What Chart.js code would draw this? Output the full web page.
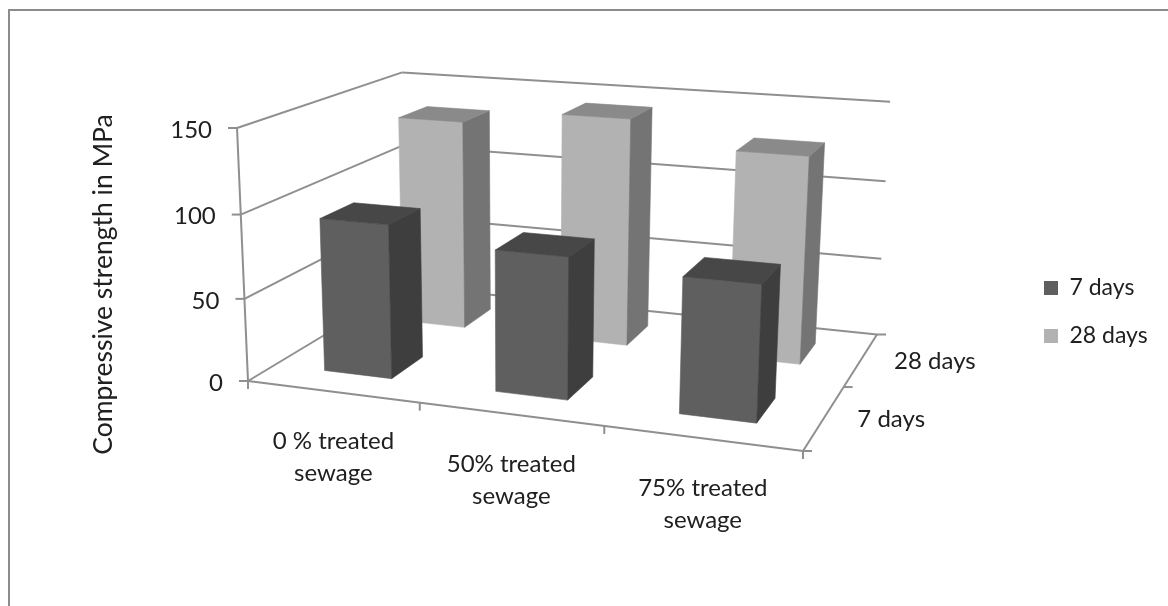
<!DOCTYPE html>
<html>
<head>
<meta charset="utf-8">
<script src="https://cdn.jsdelivr.net/npm/chart.js@4"></script>
<style>
html,body{margin:0;padding:0;background:#fff;overflow:hidden}
#wrap{position:absolute;left:0;top:0;width:1168px;height:606px;overflow:hidden}
#frame{position:absolute;left:8px;top:9px;width:1300px;height:800px;border:2px solid #8c8c8c;box-sizing:border-box}
#holder{position:absolute;left:0;top:0;width:1168px;height:606px}
</style>
</head>
<body>
<div id="wrap"><div id="frame"></div><div id="holder"><canvas id="c"></canvas></div></div>
<script>
// ---- data ----
const categories = [['0 % treated','sewage'],['50% treated','sewage'],['75% treated','sewage']];
const seriesNames = ['7 days','28 days'];
const values7 = [93,84,79];
const values28 = [134,143,128];
const yTicks = [0,50,100,150];
const axisTitle = 'Compressive strength in MPa';

// ---- look ----
const FONT = 'Lato';
const TEXT = '#202020';
const LINE = '#8f8f8f';
const faces = [
  {front:'#5f5f5f',side:'#3e3e3e',top:'#474747'},
  {front:'#b2b2b2',side:'#747474',top:'#8a8a8a'}
];
// Camera: the page position of the plot's floor, one roof corner and the vertical vanishing point
const floorQuad = {fl:[248,381],fr:[803,451],br:[877,334.5],bl:[406,286]};
const roofFrontLeft = [237,128];
const vanish = [521,6675];
const barDepth = 0.4;   // share of a series' depth slot

const cam = (()=>{
  const [x0,y0]=floorQuad.fl,[x1,y1]=floorQuad.fr,[x2,y2]=floorQuad.br,[x3,y3]=floorQuad.bl;
  const sx=x0-x1+x2-x3, sy=y0-y1+y2-y3;
  const dx1=x1-x2, dx2=x3-x2, dy1=y1-y2, dy2=y3-y2;
  const den=dx1*dy2-dx2*dy1;
  const g=(sx*dy2-dx2*sy)/den, h=(dx1*sy-sx*dy1)/den;
  const c=(y0-roofFrontLeft[1])/(roofFrontLeft[1]-vanish[1]);
  return {g,h,c,
    A:[x0,y0],B:[x1-x0+g*x1,y1-y0+g*y1],C:[x3-x0+h*x3,y3-y0+h*y3],E:[c*vanish[0],c*vanish[1]]};
})();
function project(u,v,w){
  const D=1+cam.g*u+cam.h*v+cam.c*w;
  return [0,1].map(i=>(cam.A[i]+cam.B[i]*u+cam.C[i]*v+cam.E[i]*w)/D);
}
function poly(ctx,pts,fill){
  ctx.beginPath();
  pts.forEach((p,i)=>i?ctx.lineTo(p[0],p[1]):ctx.moveTo(p[0],p[1]));
  ctx.closePath();
  ctx.fillStyle=fill;ctx.strokeStyle=fill;ctx.lineWidth=0.6;
  ctx.fill();ctx.stroke();
}
function seg(ctx,a,b){
  ctx.beginPath();ctx.moveTo(a[0],a[1]);ctx.lineTo(b[0],b[1]);ctx.stroke();
}

const plot3d = {
  id:'plot3d',
  afterLayout(chart){
    const l=chart.legend, pad=l.options.labels.padding;
    const dx=1044-(l.left+pad), dy=312-(l.top+l.bottom)/2;
    l.left+=dx;l.right+=dx;l.top+=dy;l.bottom+=dy;
  },
  beforeDatasetDraw(){ return false; },
  beforeDatasetsDraw(chart){
    const ctx=chart.ctx, area=chart.chartArea, ys=chart.scales.y, xs=chart.scales.x;
    const wOf=val=>(ys.bottom-ys.getPixelForValue(val))/(ys.bottom-ys.top);
    const uOf=px=>(px-area.left)/(area.right-area.left);
    ctx.save();
    ctx.lineCap='butt';
    // walls + value gridlines
    ctx.strokeStyle=LINE;ctx.lineWidth=2;
    ys.ticks.forEach(t=>{
      const w=wOf(t.value);
      const f=project(0,0,w),b=project(0,1,w),r=project(1,1,w);
      seg(ctx,f,b);seg(ctx,b,r);
      seg(ctx,[f[0]-9,f[1]],f);
    });
    seg(ctx,project(0,0,0),project(0,0,1));
    // floor edges & ticks
    seg(ctx,project(0,0,0),project(1,0,0));
    seg(ctx,project(1,0,0),project(1,1,0));
    const n=categories.length;
    for(let i=0;i<=n;i++){
      const p=project(i/n,0,0);seg(ctx,p,[p[0],p[1]+8]);
    }
    for(let i=0;i<=seriesNames.length;i++){
      const p=project(1,i/seriesNames.length,0);
      seg(ctx,p,[p[0]+9,p[1]]);
    }
    // bars, back row first
    for(let d=chart.data.datasets.length-1;d>=0;d--){
      const meta=chart.getDatasetMeta(d);
      const slot=1/chart.data.datasets.length;
      const v0=(d+0.5-barDepth/2)*slot, v1=(d+0.5+barDepth/2)*slot;
      meta.data.forEach((el,i)=>{
        const val=chart.data.datasets[d].data[i];
        const u0=uOf(el.x-el.width/2),u1=uOf(el.x+el.width/2);
        const w=wOf(val);
        const a=project(u0,v0,0),b=project(u1,v0,0),c=project(u1,v0,w),e=project(u0,v0,w);
        const f=project(u1,v1,0),g=project(u1,v1,w),h=project(u0,v1,w);
        poly(ctx,[a,b,c,e],faces[d].front);
        poly(ctx,[b,f,g,c],faces[d].side);
        poly(ctx,[e,c,g,h],faces[d].top);
      });
    }
    // texts
    ctx.fillStyle=TEXT;
    ctx.font='24px '+FONT;
    ctx.textBaseline='middle';
    ctx.textAlign='right';
    ys.ticks.forEach(t=>{
      const p=project(0,0,wOf(t.value));
      ctx.fillText(t.label,p[0]-25,p[1]+2);
    });
    ctx.textAlign='center';
    xs.getLabels().forEach((lab,i)=>{
      const p=project((i+0.5)/n,0,0);
      lab.forEach((ln,j)=>ctx.fillText(ln,p[0]+1,p[1]+50+j*32));
    });
    ctx.textAlign='left';
    seriesNames.forEach((s,i)=>{
      const p=project(1,(i+0.5)/seriesNames.length,0);
      ctx.fillText(s,p[0]+33,p[1]+2);
    });
    ctx.save();
    ctx.translate(103,284.5);ctx.rotate(-Math.PI/2);
    ctx.textAlign='center';
    ctx.font='26.5px '+FONT;
    ctx.fillText(axisTitle,0,0);
    ctx.restore();
    ctx.restore();
  }
};

new Chart(document.getElementById('c'),{
  type:'bar',
  plugins:[plot3d],
  data:{
    labels:categories,
    datasets:[
      {label:seriesNames[0],data:values7,backgroundColor:faces[0].front},
      {label:seriesNames[1],data:values28,backgroundColor:faces[1].front}
    ]
  },
  options:{
    responsive:true,maintainAspectRatio:false,animation:false,
    layout:{padding:{left:248,top:128,right:230,bottom:225}},
    datasets:{bar:{grouped:false,categoryPercentage:1,barPercentage:0.4}},
    plugins:{
      tooltip:{enabled:false},
      legend:{
        position:'right',
        labels:{font:{family:FONT,size:23},color:TEXT,boxWidth:14,boxHeight:14,padding:25}
      }
    },
    scales:{
      x:{type:'category',display:false},
      y:{type:'linear',display:false,min:0,max:150,
         afterBuildTicks(s){s.ticks=yTicks.map(v=>({value:v,label:String(v)}));}}
    }
  }
});
</script>
</body>
</html>
